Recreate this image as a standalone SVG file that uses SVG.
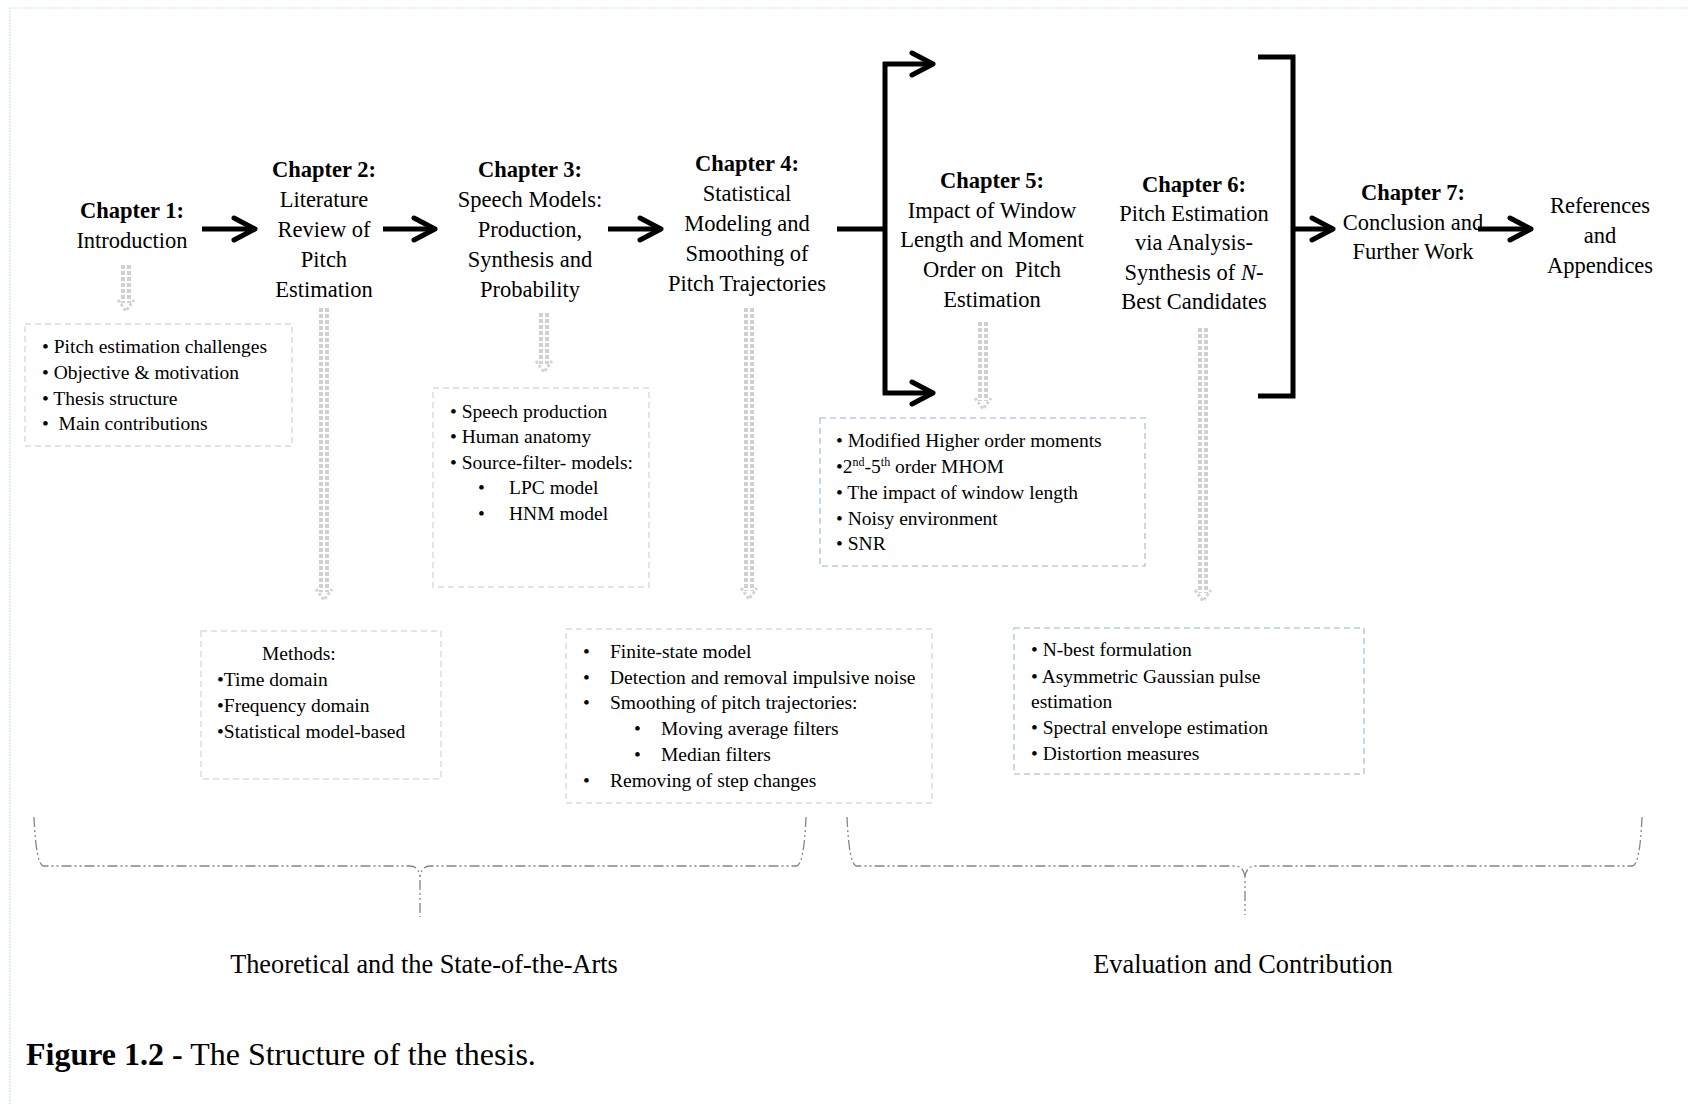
<svg xmlns="http://www.w3.org/2000/svg" width="1689" height="1104" viewBox="0 0 1689 1104">
  <style>
    text { font-family: "Liberation Serif", "Times New Roman", serif; fill: #000; }
    .ch { font-size: 22.5px; text-anchor: middle; }
    .chb { font-weight: bold; }
    .li { font-size: 19.5px; }
    .grp { font-size: 26.3px; text-anchor: middle; }
    .cap { font-size: 32px; }
    .frame { fill: none; stroke: #b3e2ec; stroke-width: 1.2; stroke-dasharray: 1.5 1.5; }
    .boxA { fill: none; stroke: #d3dcec; stroke-width: 1.4; stroke-dasharray: 6 4; }
    .boxB { fill: none; stroke: #b9cce6; stroke-width: 1.6; stroke-dasharray: 6 4; }
    .flow { fill: none; stroke: #000; stroke-width: 5; }
    .bracket { fill: none; stroke: #000; stroke-width: 5; stroke-linejoin: miter; }
    .gcol { fill: none; stroke: #d0d0d0; stroke-width: 4; stroke-dasharray: 4 2; }
    .ghead { fill: none; stroke: #d4d4d4; stroke-width: 3; stroke-dasharray: 3 2; }
    .brace { fill: none; stroke: #858585; stroke-width: 1.3; stroke-dasharray: 10 3 2 3 2 3; }
  </style>
  <defs>
    <marker id="chev" viewBox="-26 -14 30 28" refX="0" refY="0" markerWidth="30" markerHeight="28" markerUnits="userSpaceOnUse" orient="auto">
      <path d="M-21,-11 L0,0 L-21,11" fill="none" stroke="#000" stroke-width="5" stroke-linecap="round" stroke-linejoin="round"/>
    </marker>
  </defs>

  <rect width="1689" height="1104" fill="#fff"/>
  <!-- page frame -->
  <path class="frame" d="M10,1104 V8 H1689"/>

  <!-- chapter titles -->
  <g id="ch1">
    <text class="ch" x="132" y="218"><tspan class="chb">Chapter 1:</tspan></text>
    <text class="ch" x="132" y="248">Introduction</text>
  </g>
  <g id="ch2">
    <text class="ch chb" x="324" y="177">Chapter 2:</text>
    <text class="ch" x="324" y="207">Literature</text>
    <text class="ch" x="324" y="237">Review of</text>
    <text class="ch" x="324" y="267">Pitch</text>
    <text class="ch" x="324" y="297">Estimation</text>
  </g>
  <g id="ch3">
    <text class="ch chb" x="530" y="177">Chapter 3:</text>
    <text class="ch" x="530" y="207">Speech Models:</text>
    <text class="ch" x="530" y="237">Production,</text>
    <text class="ch" x="530" y="267">Synthesis and</text>
    <text class="ch" x="530" y="297">Probability</text>
  </g>
  <g id="ch4">
    <text class="ch chb" x="747" y="171">Chapter 4:</text>
    <text class="ch" x="747" y="201">Statistical</text>
    <text class="ch" x="747" y="231">Modeling and</text>
    <text class="ch" x="747" y="261">Smoothing of</text>
    <text class="ch" x="747" y="291">Pitch Trajectories</text>
  </g>
  <g id="ch5">
    <text class="ch chb" x="992" y="188">Chapter 5:</text>
    <text class="ch" x="992" y="218">Impact of Window</text>
    <text class="ch" x="992" y="247">Length and Moment</text>
    <text class="ch" x="992" y="277" xml:space="preserve">Order on  Pitch</text>
    <text class="ch" x="992" y="307">Estimation</text>
  </g>
  <g id="ch6">
    <text class="ch chb" x="1194" y="192">Chapter 6:</text>
    <text class="ch" x="1194" y="221">Pitch Estimation</text>
    <text class="ch" x="1194" y="250">via Analysis-</text>
    <text class="ch" x="1194" y="280">Synthesis of <tspan font-style="italic">N</tspan>-</text>
    <text class="ch" x="1194" y="309">Best Candidates</text>
  </g>
  <g id="ch7">
    <text class="ch chb" x="1413" y="200">Chapter 7:</text>
    <text class="ch" x="1413" y="230">Conclusion and</text>
    <text class="ch" x="1413" y="259">Further Work</text>
  </g>
  <g id="refs">
    <text class="ch" x="1600" y="213">References</text>
    <text class="ch" x="1600" y="243">and</text>
    <text class="ch" x="1600" y="273">Appendices</text>
  </g>

  <!-- detail boxes -->
  <g id="box1">
    <rect class="boxA" x="25" y="324" width="267" height="122"/>
    <text class="li" x="42" y="353">• Pitch estimation challenges</text>
    <text class="li" x="42" y="379">• Objective &amp; motivation</text>
    <text class="li" x="42" y="405">• Thesis structure</text>
    <text class="li" x="42" y="430" xml:space="preserve">•  Main contributions</text>
  </g>
  <g id="box2">
    <rect class="boxA" x="201" y="631" width="240" height="148"/>
    <text class="li" x="262" y="660">Methods:</text>
    <text class="li" x="217" y="686">•Time domain</text>
    <text class="li" x="217" y="712">•Frequency domain</text>
    <text class="li" x="217" y="738">•Statistical model-based</text>
  </g>
  <g id="box3">
    <rect class="boxA" x="433" y="388" width="216" height="199"/>
    <text class="li" x="450" y="418">• Speech production</text>
    <text class="li" x="450" y="443">• Human anatomy</text>
    <text class="li" x="450" y="469">• Source-filter- models:</text>
    <text class="li" y="494"><tspan x="478">•</tspan><tspan x="509">LPC model</tspan></text>
    <text class="li" y="520"><tspan x="478">•</tspan><tspan x="509">HNM model</tspan></text>
  </g>
  <g id="box4">
    <rect class="boxA" x="566" y="629" width="366" height="174"/>
    <text class="li" y="658"><tspan x="583">•</tspan><tspan x="610">Finite-state model</tspan></text>
    <text class="li" y="684"><tspan x="583">•</tspan><tspan x="610">Detection and removal impulsive noise</tspan></text>
    <text class="li" y="709"><tspan x="583">•</tspan><tspan x="610">Smoothing of pitch trajectories:</tspan></text>
    <text class="li" y="735"><tspan x="634">•</tspan><tspan x="661">Moving average filters</tspan></text>
    <text class="li" y="761"><tspan x="634">•</tspan><tspan x="661">Median filters</tspan></text>
    <text class="li" y="787"><tspan x="583">•</tspan><tspan x="610">Removing of step changes</tspan></text>
  </g>
  <g id="box5">
    <rect class="boxB" x="820" y="418" width="325" height="148"/>
    <text class="li" x="836" y="447">• Modified Higher order moments</text>
    <text class="li" x="836" y="473">•2<tspan font-size="12" dy="-7">nd</tspan><tspan dy="7">-5</tspan><tspan font-size="12" dy="-7">th</tspan><tspan dy="7"> order MHOM</tspan></text>
    <text class="li" x="836" y="499">• The impact of window length</text>
    <text class="li" x="836" y="525">• Noisy environment</text>
    <text class="li" x="836" y="550">• SNR</text>
  </g>
  <g id="box6">
    <rect class="boxB" x="1014" y="628" width="350" height="146"/>
    <text class="li" x="1031" y="656">• N-best formulation</text>
    <text class="li" x="1031" y="683">• Asymmetric Gaussian pulse</text>
    <text class="li" x="1031" y="708">estimation</text>
    <text class="li" x="1031" y="734">• Spectral envelope estimation</text>
    <text class="li" x="1031" y="760">• Distortion measures</text>
  </g>

  <!-- group labels -->
  <g id="part1">
    <text class="grp" x="424" y="973">Theoretical and the State-of-the-Arts</text>
  </g>
  <g id="part2">
    <text class="grp" x="1243" y="973">Evaluation and Contribution</text>
  </g>

  <!-- caption -->
  <text class="cap" x="26" y="1065"><tspan font-weight="bold">Figure 1.2 -</tspan> The Structure of the thesis.</text>

  <!-- connectors -->
  <g id="connectors">
    <!-- main reading order -->
    <line class="flow" x1="202" y1="229" x2="255" y2="229" marker-end="url(#chev)"/>
    <line class="flow" x1="383" y1="229" x2="435" y2="229" marker-end="url(#chev)"/>
    <line class="flow" x1="608" y1="229" x2="661" y2="229" marker-end="url(#chev)"/>
    <path class="bracket" d="M837,229 H885 M885,62 V395"/>
    <line class="flow" x1="883" y1="64" x2="933" y2="64" marker-end="url(#chev)"/>
    <line class="flow" x1="883" y1="393" x2="933" y2="393" marker-end="url(#chev)"/>
    <path class="bracket" d="M1258,57 H1293 V396 H1258"/>
    <line class="flow" x1="1293" y1="229" x2="1333" y2="229" marker-end="url(#chev)"/>
    <line class="flow" x1="1478" y1="229" x2="1531" y2="229" marker-end="url(#chev)"/>

    <!-- chapter to contents links -->
    <path class="gcol" d="M123,265 V303 M129,265 V303"/>
    <path class="ghead" d="M118,300 L126,311 L134,300"/>
    <path class="gcol" d="M321,308 V592 M327,308 V592"/>
    <path class="ghead" d="M316,589 L324,600 L332,589"/>
    <path class="gcol" d="M541,313 V364 M547,313 V364"/>
    <path class="ghead" d="M536,361 L544,372 L552,361"/>
    <path class="gcol" d="M746,308 V591 M752,308 V591"/>
    <path class="ghead" d="M741,588 L749,599 L757,588"/>
    <path class="gcol" d="M980,322 V401 M986,322 V401"/>
    <path class="ghead" d="M975,398 L983,409 L991,398"/>
    <path class="gcol" d="M1200,328 V593 M1206,328 V593"/>
    <path class="ghead" d="M1195,590 L1203,601 L1211,590"/>

    <!-- grouping braces -->
    <path class="brace" d="M34,817 Q36,866 44,866 H410 Q418,866 420,876 V917"/>
    <path class="brace" d="M806,817 Q804,866 796,866 H430 Q422,866 420,876"/>
    <path class="brace" d="M847,817 Q849,866 857,866 H1235 Q1243,866 1245,876 V915"/>
    <path class="brace" d="M1642,817 Q1640,866 1632,866 H1255 Q1247,866 1245,876"/>
  </g>
</svg>
